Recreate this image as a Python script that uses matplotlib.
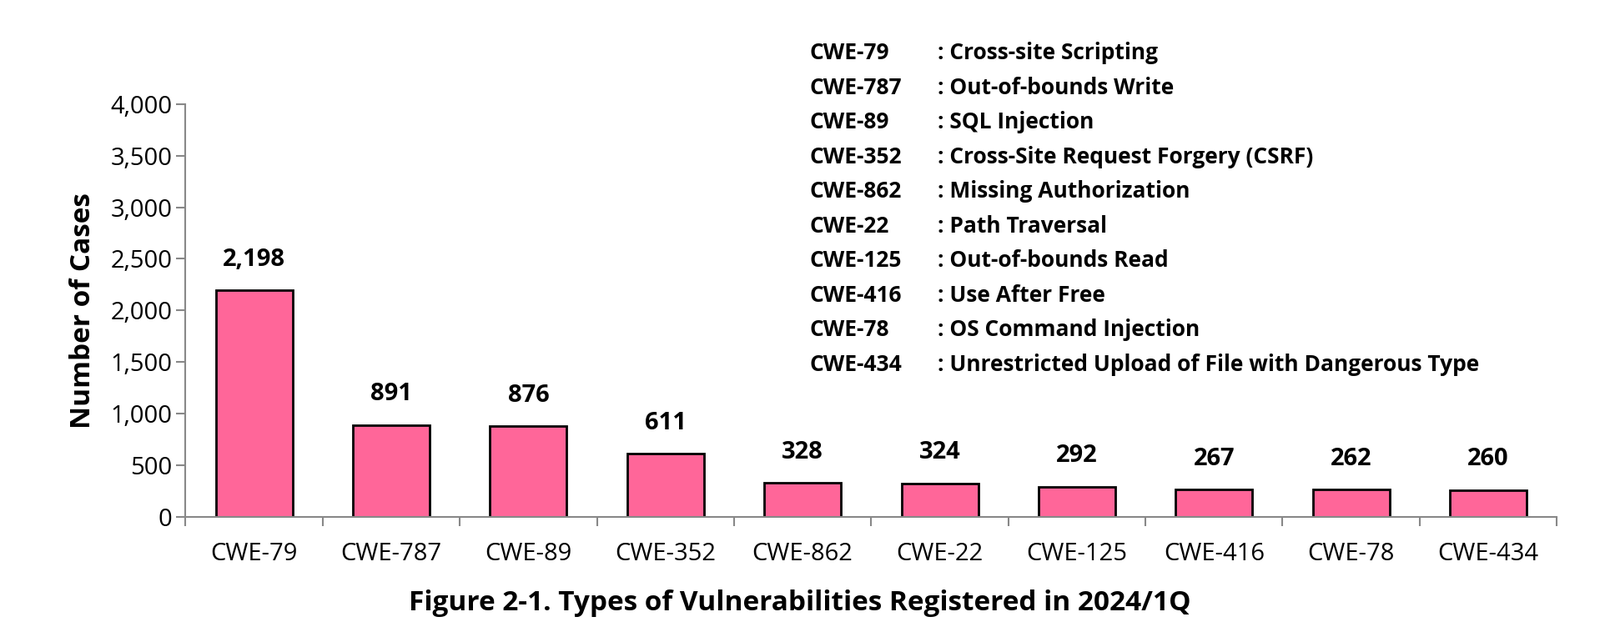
import matplotlib
matplotlib.use("Agg")
import matplotlib.pyplot as plt
import numpy as np

categories = ["CWE-79","CWE-787","CWE-89","CWE-352","CWE-862","CWE-22","CWE-125","CWE-416","CWE-78","CWE-434"]
values = [2198, 891, 876, 611, 328, 324, 292, 267, 262, 260]
descriptions = ["Cross-site Scripting","Out-of-bounds Write","SQL Injection","Cross-Site Request Forgery (CSRF)",
                "Missing Authorization","Path Traversal","Out-of-bounds Read","Use After Free",
                "OS Command Injection","Unrestricted Upload of File with Dangerous Type"]
yticks = [0,500,1000,1500,2000,2500,3000,3500,4000]

plt.rcParams["font.family"] = "Open Sans"
fig = plt.figure(figsize=(19.18,7.70), dpi=100)
ax = fig.add_axes([0.116,0.195,0.857,0.643])
x = np.arange(len(categories))
ax.bar(x, values, width=0.56, color="#FF6699", edgecolor="black", linewidth=2)
for xi, v in zip(x, values):
    ax.text(xi, v+180, f"{v:,}", ha="center", va="bottom", fontsize=21, fontweight="bold")
ax.set_xlim(-0.5, len(categories)-0.5)
ax.set_ylim(0, 4000)
ax.set_yticks(yticks)
ax.set_yticklabels([f"{t:,}" for t in yticks], fontsize=21)
ax.set_xticks(x)
ax.set_xticklabels(categories, fontsize=21)
ax.tick_params(axis="x", length=0, pad=22)
ax.set_xticks(np.arange(len(categories)+1)-0.5, minor=True)
ax.tick_params(axis="x", which="minor", length=8, color="#888888", width=1.5)
ax.tick_params(axis="y", length=8, color="#888888", width=1.5)
for s in ["top","right"]:
    ax.spines[s].set_visible(False)
for s in ["left","bottom"]:
    ax.spines[s].set_color("#888888")
    ax.spines[s].set_linewidth(1.5)
ax.set_ylabel("Number of Cases", fontsize=24, fontweight="bold", labelpad=12)
fig.text(0.5, 0.05, "Figure 2-1. Types of Vulnerabilities Registered in 2024/1Q", ha="center",
         fontsize=24, fontweight="bold")
for i, (c, d) in enumerate(zip(categories, descriptions)):
    y = 1 - (52 + 34*i)/630
    fig.text(0.506, y, c, fontsize=19, fontweight="bold", va="center")
    fig.text(0.586, y, ": " + d, fontsize=19, fontweight="bold", va="center")
fig.savefig("out.png", dpi=100)
